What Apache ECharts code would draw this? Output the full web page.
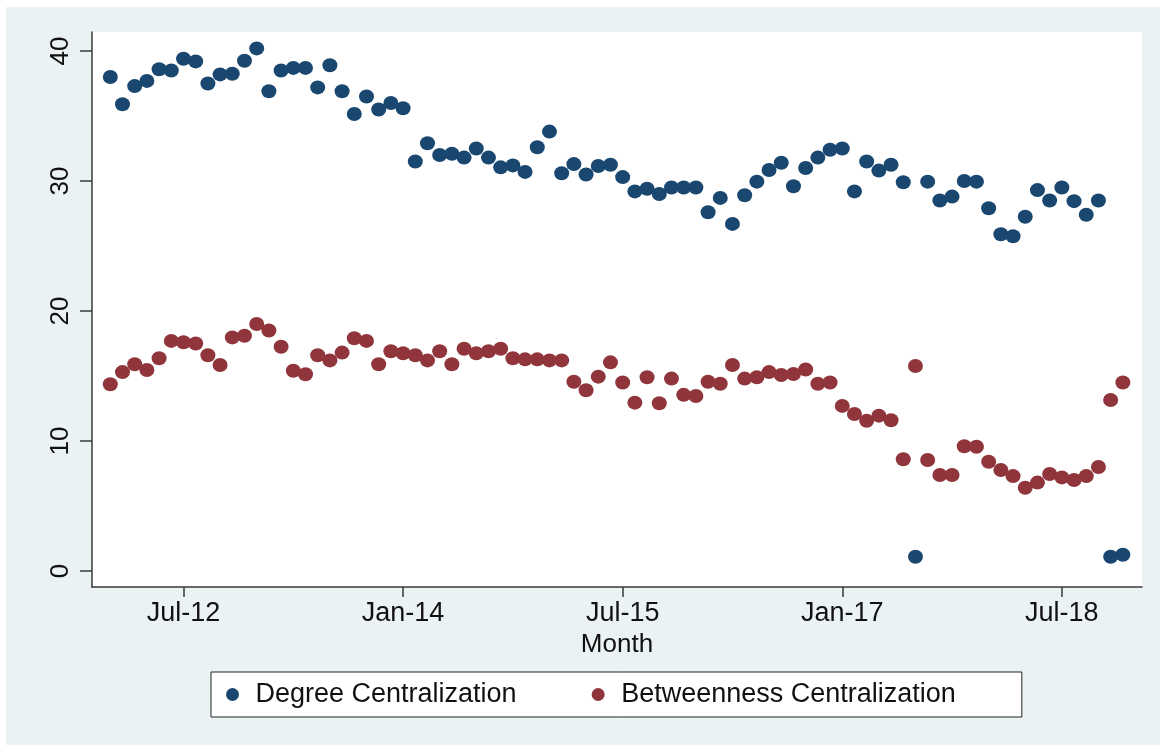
<!DOCTYPE html>
<html>
<head>
<meta charset="utf-8">
<title>Centralization by month</title>
<script src="https://cdn.jsdelivr.net/npm/echarts@6/dist/echarts.min.js"></script>
<style>
    html, body {margin: 0; padding: 0; background: #fff;}
    #main {width: 1166px; height: 751px;}
</style>
</head>
<body>
<div id="main"></div>
<script>
// months Jan-12 .. Dec-18
var months = [
    'Jan-12','Feb-12','Mar-12','Apr-12','May-12','Jun-12','Jul-12','Aug-12','Sep-12','Oct-12','Nov-12','Dec-12',
    'Jan-13','Feb-13','Mar-13','Apr-13','May-13','Jun-13','Jul-13','Aug-13','Sep-13','Oct-13','Nov-13','Dec-13',
    'Jan-14','Feb-14','Mar-14','Apr-14','May-14','Jun-14','Jul-14','Aug-14','Sep-14','Oct-14','Nov-14','Dec-14',
    'Jan-15','Feb-15','Mar-15','Apr-15','May-15','Jun-15','Jul-15','Aug-15','Sep-15','Oct-15','Nov-15','Dec-15',
    'Jan-16','Feb-16','Mar-16','Apr-16','May-16','Jun-16','Jul-16','Aug-16','Sep-16','Oct-16','Nov-16','Dec-16',
    'Jan-17','Feb-17','Mar-17','Apr-17','May-17','Jun-17','Jul-17','Aug-17','Sep-17','Oct-17','Nov-17','Dec-17',
    'Jan-18','Feb-18','Mar-18','Apr-18','May-18','Jun-18','Jul-18','Aug-18','Sep-18','Oct-18','Nov-18','Dec-18'
];
var degree = [
    38.0, 35.9, 37.3, 37.7, 38.6, 38.5, 39.4, 39.2, 37.5, 38.2, 38.25, 39.25,
    40.2, 36.9, 38.5, 38.7, 38.7, 37.2, 38.9, 36.9, 35.15, 36.5, 35.5, 36.0,
    35.6, 31.5, 32.9, 32.0, 32.1, 31.8, 32.5, 31.8, 31.05, 31.2, 30.7, 32.6,
    33.8, 30.6, 31.3, 30.5, 31.15, 31.25, 30.3, 29.2, 29.4, 29.0, 29.5, 29.5,
    29.5, 27.6, 28.7, 26.7, 28.9, 29.95, 30.85, 31.4, 29.6, 31.0, 31.8, 32.4,
    32.5, 29.2, 31.5, 30.8, 31.25, 29.9, 1.1, 29.95, 28.5, 28.8, 30.0, 29.95,
    27.9, 25.9, 25.75, 27.25, 29.3, 28.5, 29.5, 28.45, 27.4, 28.5, 1.1, 1.25
];
var betweenness = [
    14.36, 15.3, 15.9, 15.46, 16.36, 17.7, 17.6, 17.5, 16.6, 15.85, 17.97, 18.1,
    19.0, 18.5, 17.25, 15.4, 15.13, 16.6, 16.2, 16.8, 17.9, 17.7, 15.9, 16.9,
    16.75, 16.6, 16.2, 16.9, 15.9, 17.1, 16.75, 16.9, 17.1, 16.36, 16.28, 16.28,
    16.2, 16.2, 14.56, 13.9, 14.95, 16.05, 14.5, 12.95, 14.9, 12.9, 14.8, 13.55,
    13.46, 14.56, 14.4, 15.85, 14.8, 14.9, 15.3, 15.08, 15.15, 15.5, 14.4, 14.5,
    12.7, 12.08, 11.55, 11.95, 11.6, 8.6, 15.77, 8.54, 7.38, 7.38, 9.6, 9.56,
    8.4, 7.77, 7.3, 6.4, 6.8, 7.46, 7.2, 7.0, 7.3, 8.0, 13.15, 14.5
];
var xTickLabels = ['Jul-12', 'Jan-14', 'Jul-15', 'Jan-17', 'Jul-18'];
var yTicks = [0, 10, 20, 30, 40];

var xTicks = [];
for (var i = 0; i < xTickLabels.length; i++) {
    xTicks.push(months.indexOf(xTickLabels[i]));
}
var degreeData = [], betweenData = [];
for (var j = 0; j < months.length; j++) {
    degreeData.push([j, degree[j]]);
    betweenData.push([j, betweenness[j]]);
}

var font = "'Liberation Sans', Arial, Helvetica, sans-serif";
var axisColor = '#3a3a3a';

var myChart = echarts.init(document.getElementById('main'));
var option = {
    animation: false,
    backgroundColor: '#ffffff',
    textStyle: {fontFamily: font},
    graphic: [{
        type: 'rect',
        z: -10,
        silent: true,
        shape: {x: 6, y: 7, width: 1154, height: 738},
        style: {fill: '#eaf2f3'}
    }],
    grid: {
        left: 92, right: 24, top: 32, bottom: 164,
        show: true,
        backgroundColor: '#ffffff',
        borderWidth: 0
    },
    legend: {
        left: 211,
        top: 672,
        orient: 'horizontal',
        itemWidth: 36,
        itemHeight: 13,
        itemGap: 75,
        padding: [9, 66, 9, 15],
        backgroundColor: '#ffffff',
        borderColor: '#222222',
        borderWidth: 1,
        borderRadius: 0,
        textStyle: {fontFamily: font, fontSize: 27, color: '#111'},
        data: [
            {name: 'Degree Centralization', icon: 'circle'},
            {name: 'Betweenness Centralization', icon: 'circle'}
        ]
    },
    xAxis: {
        type: 'value',
        min: -1.5,
        max: 84.57,
        name: 'Month',
        nameLocation: 'middle',
        nameGap: 44,
        nameTextStyle: {fontFamily: font, fontSize: 26, color: '#111'},
        axisLine: {show: true, onZero: false, lineStyle: {color: axisColor, width: 1.5}},
        axisTick: {show: true, length: 10, customValues: xTicks, lineStyle: {color: axisColor, width: 1.5}},
        axisLabel: {
            customValues: xTicks,
            margin: 13,
            fontFamily: font, fontSize: 27, color: '#111',
            formatter: function (v) { return months[Math.round(v)]; }
        },
        splitLine: {show: false}
    },
    yAxis: {
        type: 'value',
        min: -1.23,
        max: 41.46,
        axisLine: {show: true, onZero: false, lineStyle: {color: axisColor, width: 1.5}},
        axisTick: {show: true, length: 12, customValues: yTicks, lineStyle: {color: axisColor, width: 1.5}},
        axisLabel: {
            customValues: yTicks,
            rotate: 90,
            margin: 18,
            fontFamily: font, fontSize: 26, color: '#111'
        },
        splitLine: {show: false}
    },
    series: [
        {
            name: 'Degree Centralization',
            type: 'scatter',
            symbol: 'circle',
            symbolSize: [15, 14],
            itemStyle: {color: '#1a476f', opacity: 1},
            data: degreeData
        },
        {
            name: 'Betweenness Centralization',
            type: 'scatter',
            symbol: 'circle',
            symbolSize: [15, 14],
            itemStyle: {color: '#90353b', opacity: 1},
            data: betweenData
        }
    ]
};
myChart.setOption(option);
</script>
</body>
</html>
